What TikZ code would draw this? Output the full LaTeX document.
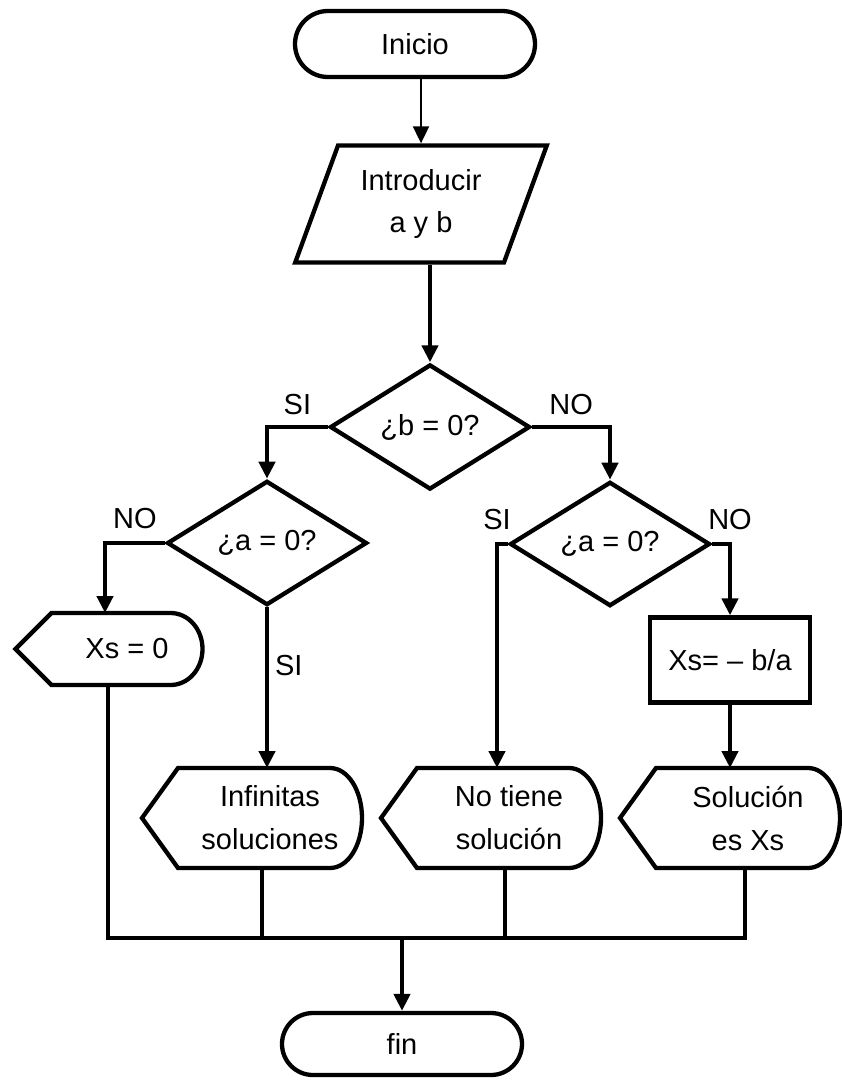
\documentclass[tikz,border=0pt]{standalone}
\usepackage{fontspec}
\setmainfont{Liberation Sans}
\usepackage{tikz}
\usetikzlibrary{arrows.meta,shapes.geometric,shapes.misc,calc}

\begin{document}
\begin{tikzpicture}[x=1pt,y=-1pt,>={Triangle[length=17pt,width=16pt]},
  every node/.style={font=\fontsize{29}{43}\selectfont},
  box/.style={draw,line width=4.3pt,align=center,inner sep=0pt},
  term/.style={box,rounded rectangle,minimum width=240,minimum height=66},
  io/.style={box,trapezium,trapezium left angle=66,trapezium right angle=114,trapezium stretches=true,minimum width=252,minimum height=117},
  cond/.style={box,diamond,minimum width=200,minimum height=116},
  proc/.style={box,rectangle,minimum width=160,minimum height=85},
  disp/.style={align=center,inner sep=0pt,outer sep=0pt,minimum width=184,minimum height=100,
    append after command={\pgfextra{\draw[line width=4.3pt]
      ([xshift=-36pt]\tikzlastnode.west) -- (\tikzlastnode.north west)
      -- ([xshift=-32pt]\tikzlastnode.north east)
      .. controls ([xshift=-14pt]\tikzlastnode.north east) and ($(\tikzlastnode.east)!.55!(\tikzlastnode.north east)$) .. (\tikzlastnode.east)
      .. controls ($(\tikzlastnode.east)!.55!(\tikzlastnode.south east)$) and ([xshift=-14pt]\tikzlastnode.south east) .. ([xshift=-32pt]\tikzlastnode.south east)
      -- (\tikzlastnode.south west) -- cycle;}}},
  wire/.style={line width=4.3pt},
  arr/.style={line width=4.3pt,->},
  lbl/.style={inner sep=2pt}]
\useasboundingbox (0,0) rectangle (841,1081);

% bloques
\node[term] (inicio) at (415,44) {Inicio};
\node[io] (datos) at (421,204) {Introducir\\a y b};
\node[cond] (b0) at (430,427) {¿b = 0?};
\node[cond] (a0izq) at (267,543) {¿a = 0?};
\node[cond] (a0der) at (610,544) {¿a = 0?};
\node[disp,minimum width=151,minimum height=72] (xcero) at (127,649) {Xs = 0};
\node[proc] (xsol) at (730,660) {Xs= – b/a};
\node[disp] (infinitas) at (270,818) {Infinitas\\soluciones};
\node[disp] (nosol) at (509,818) {No tiene\\solución};
\node[disp] (solucion) at (748,818) {Solución\\es Xs};
\node[term,minimum height=62] (fin) at (402,1044) {fin};
\coordinate (union) at (402,938);

% flechas
\draw[->,line width=2pt] (datos.north |- inicio.south) -- (datos.north);
\draw[arr] (b0.north |- datos.south) -- (b0.north);
\draw[arr] (b0.west) -| node[pos=.25,above=8pt,lbl]{SI} (a0izq.north);
\draw[arr] (b0.east) -| node[pos=.25,above=8pt,lbl]{NO} (a0der.north);
\draw[arr] (a0izq.west) -| node[pos=.25,above=10pt,lbl]{NO} ([xshift=-22pt]xcero.north);
\draw[arr] (a0izq.south) -- node[pos=.36,right=4pt,lbl]{SI} (a0izq.south |- infinitas.north);
\draw[arr] (a0der.west) -| node[pos=.5,above=10pt,lbl]{SI} ([xshift=-12pt]nosol.north);
\draw[arr] (a0der.east) -| node[pos=.5,above=10pt,lbl]{NO} (xsol.north);
\draw[arr] (xsol.south) -- (xsol.south |- solucion.north);
\draw[wire] ([xshift=-19pt]xcero.south) |- (union) -| ([xshift=-3pt]solucion.south);
\draw[wire] ([xshift=-8pt]infinitas.south) -- ([xshift=-8pt]infinitas.south |- union);
\draw[wire] ([xshift=-4pt]nosol.south) -- ([xshift=-4pt]nosol.south |- union);
\draw[arr] (union) -- (union |- fin.north);
\end{tikzpicture}
\end{document}
